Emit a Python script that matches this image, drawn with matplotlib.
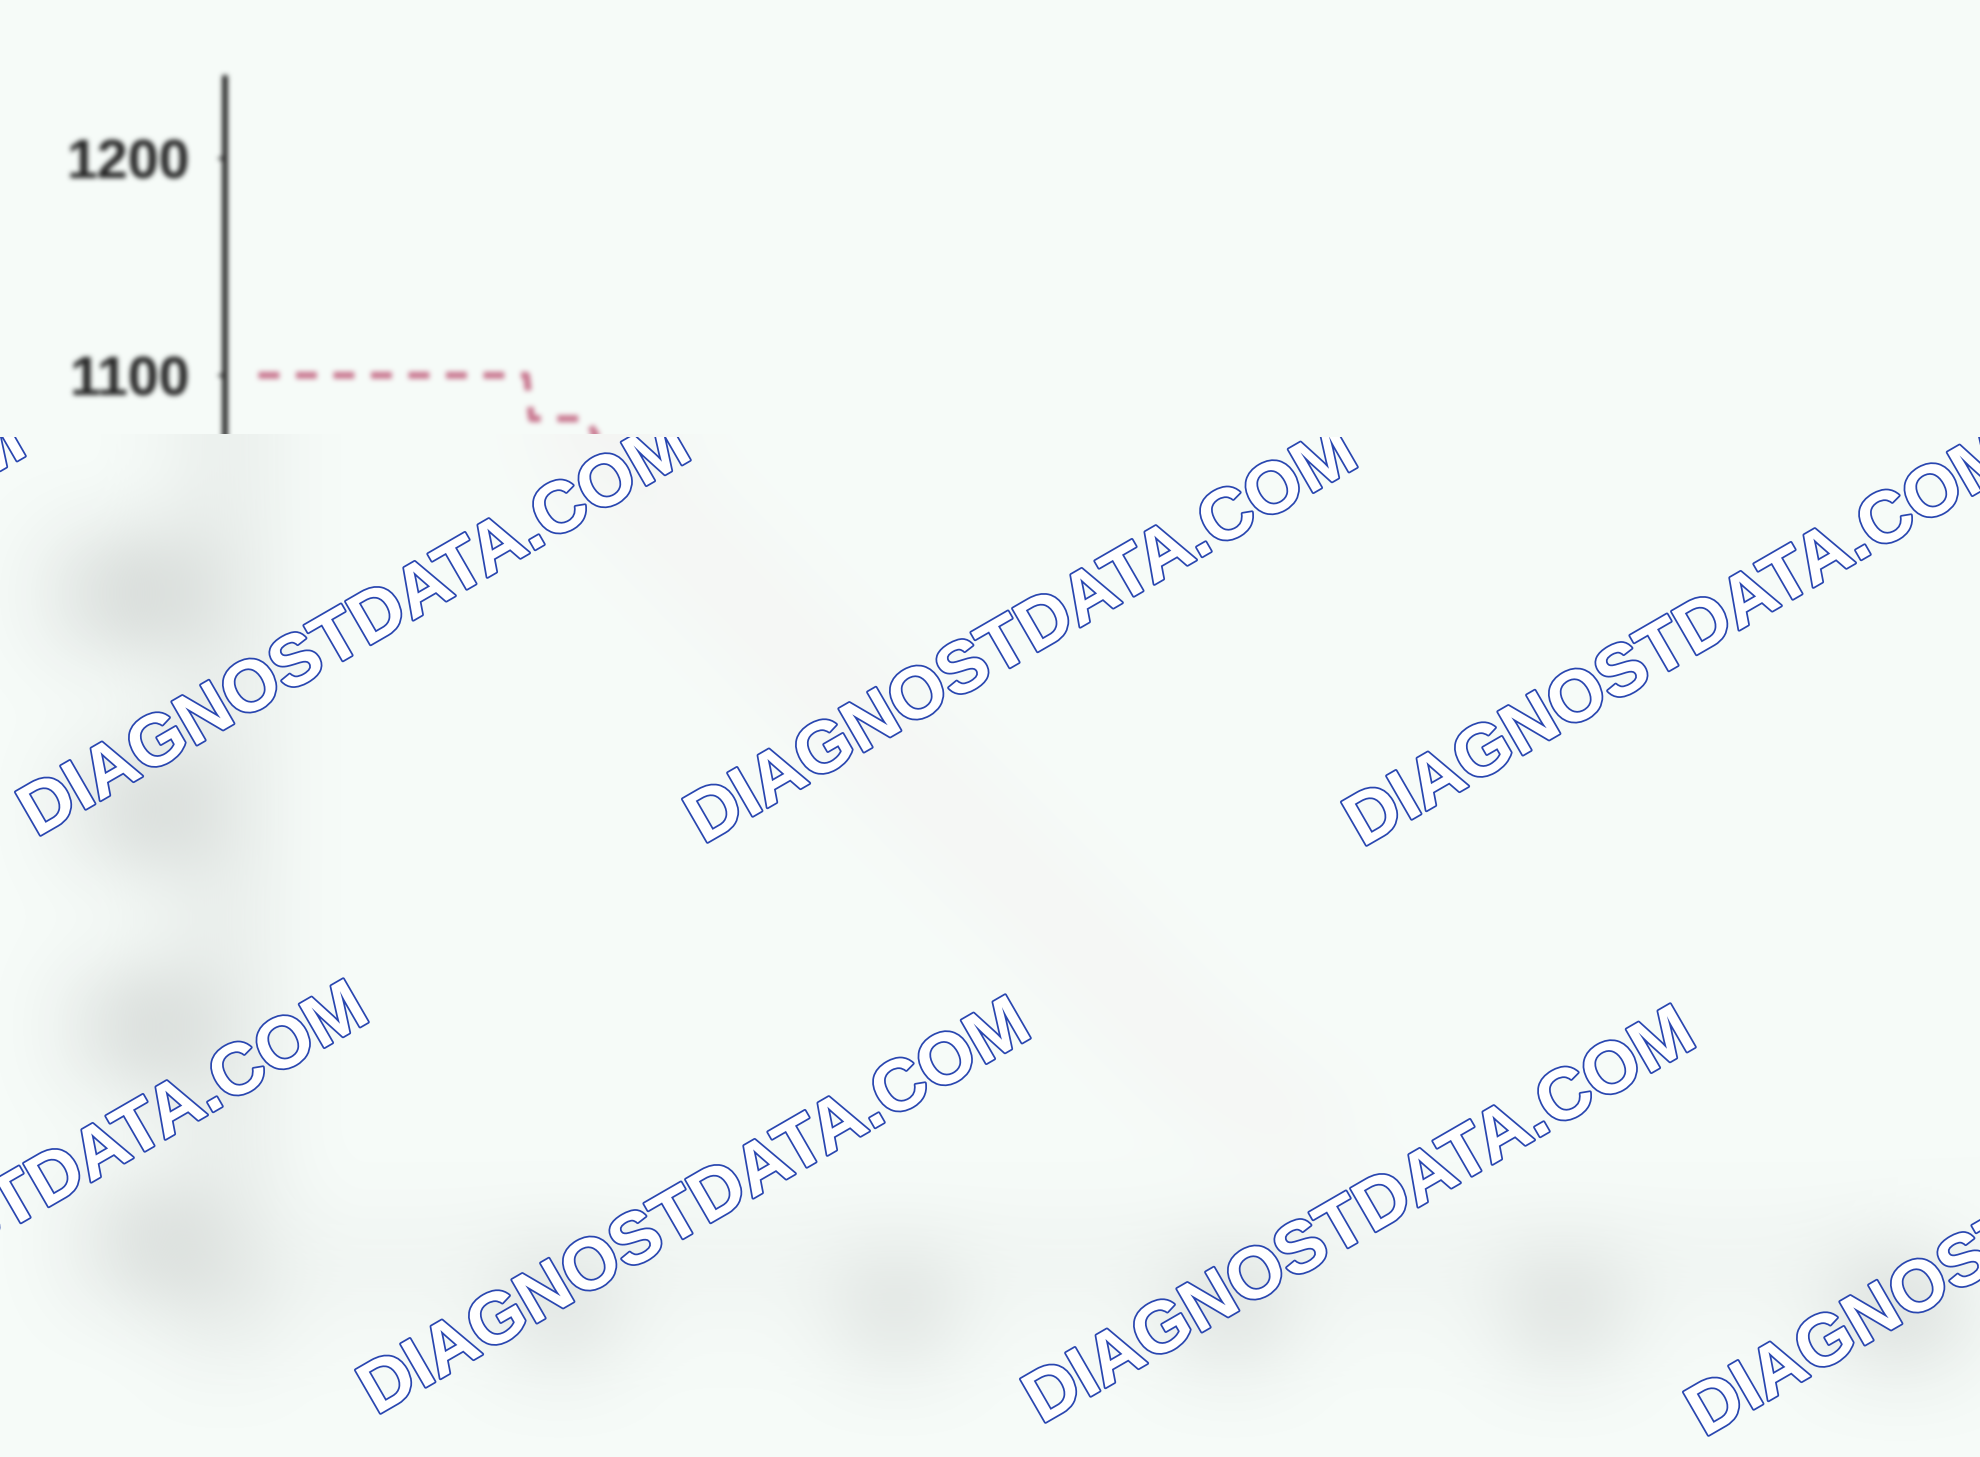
import numpy as np
import matplotlib
matplotlib.use('Agg')
import matplotlib.pyplot as plt
import matplotlib.patheffects as pe

# Temperature trace (lower part of the source is blurred)
time_min = [2, 18, 18.3, 21.5, 24, 30, 40, 50, 60, 66]
temp_c = [1100, 1100, 1080, 1080, 1052, 1005, 925, 848, 770, 745]
y_ticks = [700, 800, 900, 1000, 1100, 1200]
x_ticks = [0, 20, 40, 60, 80, 100]
watermark = 'DIAGNOSTDATA.COM'

BG = '#f6fbf8'
W, H = 1980, 1457
CUT = 437   # pixel row where the blurred part of the screenshot starts
PAD = 160   # room for the blur to spread past the drawn area


def box_blur(a, w, axis):
    pad = w // 2
    widths = [(0, 0)] * a.ndim
    widths[axis] = (pad, w - 1 - pad)
    a = np.pad(a, widths, mode='edge')
    c = np.cumsum(a, axis=axis)
    c = np.insert(c, 0, 0, axis=axis)
    n = a.shape[axis] - w + 1
    hi = np.take(c, np.arange(w, w + n), axis=axis)
    lo = np.take(c, np.arange(n), axis=axis)
    return (hi - lo) / w


def blur(a, w):
    for _ in range(3):
        a = box_blur(a, w, 0)
        a = box_blur(a, w, 1)
    return a


def screenshot_filter(img, dpi):
    # slightly soft on top, heavy blur below the cut line
    top = int(round(H - ax.get_window_extent().y1))
    cut = PAD + max(CUT - top, 0)
    a = img[..., 3:]
    pm = np.concatenate([img[..., :3] * a, a], axis=-1)
    pm = np.pad(pm, ((PAD, PAD), (PAD, PAD), (0, 0)))
    out = np.empty_like(pm)
    out[:cut] = blur(pm[:cut], 5)
    out[cut:] = blur(pm[cut:], 95)
    alpha = out[..., 3:]
    rgb = out[..., :3] / np.maximum(alpha, 1e-6)
    res = np.concatenate([rgb, alpha], axis=-1) + 0.5 / 255  # matplotlib truncates to uint8
    return np.clip(res, 0, 1), -PAD, -PAD


plt.rcParams['font.family'] = ['Liberation Sans', 'DejaVu Sans']

fig = plt.figure(figsize=(W / 100, H / 100), dpi=100, facecolor=BG)
ax = fig.add_axes([225 / W, 1 - 1265 / H, 1675 / W, (1265 - 78) / H])
ax.set_facecolor(BG)

ax.plot(time_min, temp_c, color='#c97890', lw=5, dashes=(3.0, 2.4))

ax.set_xlim(0, 100)
ax.set_ylim(690, 1237)
ax.set_yticks(y_ticks)
ax.set_xticks(x_ticks)
ax.tick_params(axis='y', labelsize=40, length=5, width=2, pad=20,
               colors='#262626')
ax.tick_params(axis='x', labelsize=38, length=5, width=2, pad=14,
               colors='#262626')
for lab in ax.get_yticklabels() + ax.get_xticklabels():
    lab.set_fontweight('bold')
for side in ['top', 'right']:
    ax.spines[side].set_visible(False)
ax.spines['left'].set_linewidth(4)
ax.spines['left'].set_color('#1c1c1c')
ax.spines['bottom'].set_linewidth(2)
ax.spines['bottom'].set_color('#333333')
ax.set_agg_filter(screenshot_filter)

# Watermark layer, only over the blurred part
wm = fig.add_axes([0, 0, 1, 1 - CUT / H])
wm.set_axis_off()
wm.set_xlim(0, W)
wm.set_ylim(H, CUT)
wm_centers = [(-309, 627), (356, 631), (1023, 638), (1682, 641),
              (34, 1193), (696, 1209), (1361, 1218), (2024, 1231)]
for cx, cy in wm_centers:
    wm.text(cx, cy, watermark, rotation=30, rotation_mode='anchor',
            ha='center', va='center', fontsize=52, fontweight='bold',
            color='white', clip_on=True,
            path_effects=[pe.withStroke(linewidth=2.5, foreground='#2946b0')])

fig.savefig('out.png', dpi=100, facecolor=BG)
